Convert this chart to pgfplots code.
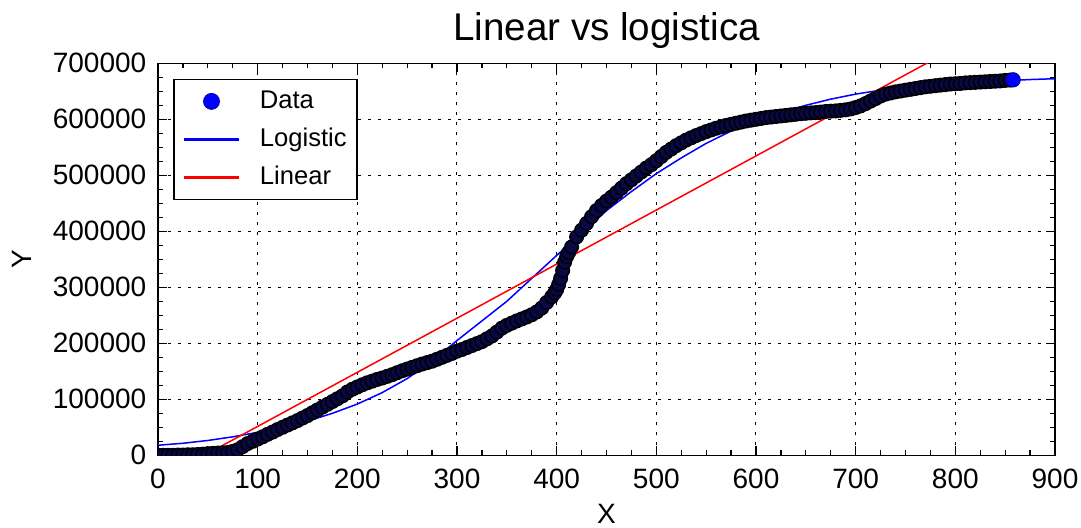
\documentclass[border=0pt]{standalone}
\usepackage{fontspec}
\setmainfont{Liberation Sans}
\usepackage{pgfplots}
\pgfplotsset{compat=1.18}
\pgfplotsset{/pgf/number format/1000 sep={}, /pgf/number format/assume math mode=true}
\definecolor{navyband}{RGB}{8,8,70}
\definecolor{legblue}{RGB}{0,0,255}
\definecolor{legred}{RGB}{255,0,0}
\begin{document}
\begin{tikzpicture}
\useasboundingbox (-79pt,-35.85pt) rectangle (461.5pt,227.65pt);
\begin{axis}[
  at={(0pt,0pt)}, anchor=south west,
  scale only axis, width=448.5pt, height=196pt,
  xmin=0, xmax=900, ymin=0, ymax=700000,
  xtick={0,100,200,300,400,500,600,700,800,900},
  ytick={0,100000,200000,300000,400000,500000,600000,700000},
  minor x tick num=3, minor y tick num=3,
  scaled y ticks=false, scaled x ticks=false,
  xticklabel={\pgfmathprintnumber[fixed,1000 sep={},assume math mode=true]{\tick}},
  yticklabel={\pgfmathprintnumber[fixed,precision=0,1000 sep={},assume math mode=true]{\tick}},
  tick align=inside,
  major tick length=4.5pt, minor tick length=2.5pt,
  tick style={black, line width=0.6pt},
  axis line style={line width=0.8pt},
  grid=major,
  major grid style={black, line width=0.5pt, dash pattern=on 1.5pt off 3.5pt},
  tick label style={font=\fontsize{14}{16}\selectfont},
  xticklabel style={inner sep=0pt, yshift=-6.5pt},
  yticklabel style={inner sep=0pt, xshift=-5.65pt},
  title={Linear vs logistica},
  title style={at={(axis description cs:0.5,1)}, anchor=base, yshift=5.3pt, inner sep=0pt, font=\fontsize{19.3}{22}\selectfont},
  xlabel={X},
  xlabel style={at={(axis description cs:0.5,0)}, anchor=north, yshift=-24.2pt, inner sep=0pt, font=\fontsize{14}{16}\selectfont},
  ylabel={Y},
  ylabel style={at={(axis description cs:-0.1632,0.5)}, anchor=north, inner sep=0pt, font=\fontsize{14}{16}\selectfont},
  clip marker paths=true,
  legend cell align=left,
  legend style={at={(axis description cs:0.01706,0.961)}, anchor=north west,
    draw=black, line width=0.8pt, fill=white,
    inner xsep=5pt, inner ysep=1.5pt, row sep=0pt,
    font=\fontsize{12.8}{14}\selectfont,
    nodes={inner sep=0pt, text height=13.1pt, text depth=5.9pt},
    /tikz/every odd column/.append style={column sep=10.5pt}},
]
\addlegendimage{legend image code/.code={\path[draw=blue!70!black, fill=blue, line width=0.4pt] (13.5pt,0pt) circle (4pt);}}
\addlegendentry{Data}
\addlegendimage{legend image code/.code={\path[draw=legblue, fill=legblue, line width=0.4pt] (0pt,-0.5pt) rectangle (27pt,0.5pt);}}
\addlegendentry{Logistic}
\addlegendimage{legend image code/.code={\path[draw=legred, fill=legred, line width=0.4pt] (0pt,-0.5pt) rectangle (27pt,0.5pt);}}
\addlegendentry{Linear}
\addplot[blue, line width=0.75pt, forget plot] table {
0 18000
25 21500
50 26500
75 33000
100 41000
125 50000
150 61000
175 75000
200 91500
225 112000
250 137000
275 168000
300 205000
325 240000
350 275000
375 316000
400 357000
425 396000
450 437000
475 471000
500 503000
525 531000
550 557000
575 579000
600 597000
625 612000
650 625000
675 636000
700 645000
725 652000
750 657000
775 661000
800 664500
825 667000
850 669000
875 671000
900 672500
};
\addplot[red, line width=0.75pt, forget plot] table {
0 -45000
860 785760
};
\addplot[only marks, mark=*, mark size=3.4pt, mark options={draw=black, fill=navyband, line width=0.7pt}, forget plot] table {
0 0
5 0
10 0
15 0
20 500
25 500
30 1000
35 1000
40 1500
45 2000
50 3000
55 3500
60 4000
65 4500
70 5000
75 7000
80 10000
85 15500
90 21000
95 25000
100 29000
105 33000
110 37500
115 41500
120 46000
125 50000
130 54000
135 58000
140 62000
145 66500
150 71000
155 76000
160 81000
165 86000
170 91000
175 96000
180 101000
185 106000
190 113000
195 118000
200 122000
205 126000
210 129500
215 132500
220 135500
225 138000
230 141000
235 144000
240 147500
245 151000
250 154000
255 157000
260 160000
265 163000
270 165500
275 168000
280 171500
285 175000
290 178500
295 182000
300 186000
305 189000
310 192500
315 196000
320 199500
325 203000
330 208000
335 213000
340 220000
345 227000
350 232000
355 236000
360 240000
365 243500
370 247000
375 251000
380 256000
385 263000
390 273000
395 283000
398 290000
400 296000
402 305000
404 316000
406 330000
408 345000
410 355000
412 362000
415 372000
420 390000
425 402000
430 414000
435 426000
440 437000
445 446000
450 454000
455 461000
460 469000
465 477000
470 485000
475 492000
480 499000
485 506000
490 513000
495 519000
500 526000
505 533500
510 541000
515 547000
520 553000
525 558000
530 563000
535 567000
540 571000
545 574500
550 578000
555 581000
560 584000
565 586500
570 589000
575 591000
580 593000
585 595000
590 597000
595 598500
600 600000
605 601500
610 603000
615 604000
620 605000
625 606000
630 607000
635 608000
640 609000
645 610000
650 610700
655 611500
660 612000
665 613000
670 614000
675 614500
680 615000
685 616000
690 617000
695 618500
700 621000
705 624000
710 628000
715 632500
720 637000
725 641500
730 645000
735 647000
740 649000
745 650500
750 652000
755 653500
760 655000
765 656500
770 658000
775 659000
780 660000
785 661000
790 662000
795 663000
800 663500
805 664000
810 665000
815 665500
820 666000
825 666500
830 667000
835 667500
840 668000
845 668500
850 669500
855 670000
};
\addplot[only marks, mark=*, mark size=3.6pt, mark options={draw=blue!50!black, fill=blue, line width=0.4pt}, forget plot] table {
858 670500
};
\end{axis}
\end{tikzpicture}
\end{document}
